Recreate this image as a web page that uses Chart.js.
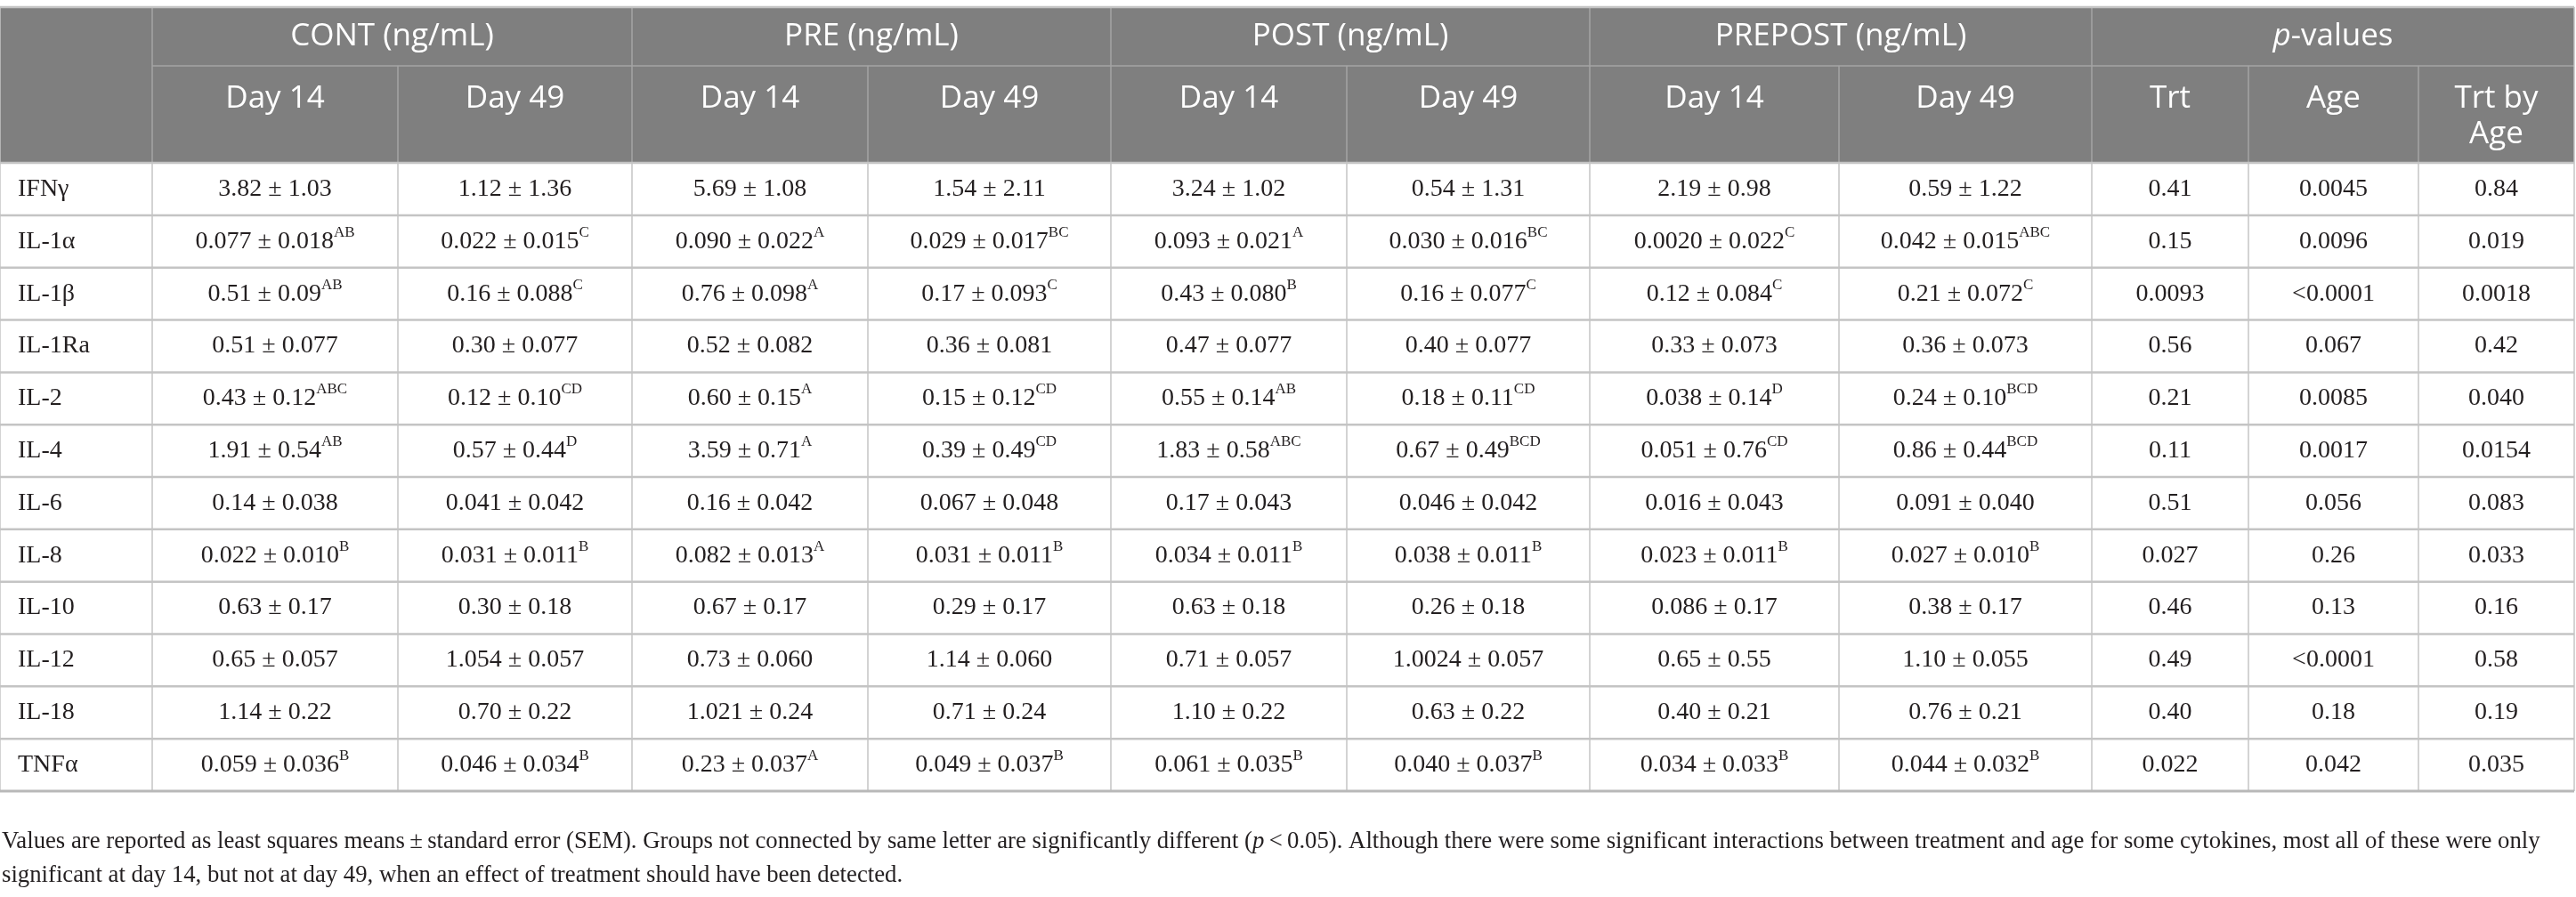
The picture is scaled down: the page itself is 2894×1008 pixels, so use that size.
<!DOCTYPE html>
<html lang="en">
<head>
<meta charset="UTF-8">
<title>Cytokines by treatment and age</title>
<script src="https://cdn.jsdelivr.net/npm/chart.js"></script>
<style>
  html, body { margin: 0; padding: 0; background: #fff; }
  #wrap { width: 2894px; height: 1008px; position: relative; }
</style>
</head>
<body>
<div id="wrap"><canvas id="tabela"></canvas></div>
<script>
const cytokines = ['IFNγ', 'IL-1α', 'IL-1β', 'IL-1Ra', 'IL-2', 'IL-4', 'IL-6', 'IL-8', 'IL-10', 'IL-12', 'IL-18', 'TNFα'];
const groups = ['CONT (ng/mL)', 'PRE (ng/mL)', 'POST (ng/mL)', 'PREPOST (ng/mL)'];
const days = ['Day 14', 'Day 49'];
const pLabels = ['Trt', 'Age', 'Trt by|Age'];

const cont14 = ['3.82 ± 1.03', '0.077 ± 0.018', '0.51 ± 0.09', '0.51 ± 0.077', '0.43 ± 0.12', '1.91 ± 0.54', '0.14 ± 0.038', '0.022 ± 0.010', '0.63 ± 0.17', '0.65 ± 0.057', '1.14 ± 0.22', '0.059 ± 0.036'];
const cont14Sup = ['', 'AB', 'AB', '', 'ABC', 'AB', '', 'B', '', '', '', 'B'];
const cont49 = ['1.12 ± 1.36', '0.022 ± 0.015', '0.16 ± 0.088', '0.30 ± 0.077', '0.12 ± 0.10', '0.57 ± 0.44', '0.041 ± 0.042', '0.031 ± 0.011', '0.30 ± 0.18', '1.054 ± 0.057', '0.70 ± 0.22', '0.046 ± 0.034'];
const cont49Sup = ['', 'C', 'C', '', 'CD', 'D', '', 'B', '', '', '', 'B'];
const pre14 = ['5.69 ± 1.08', '0.090 ± 0.022', '0.76 ± 0.098', '0.52 ± 0.082', '0.60 ± 0.15', '3.59 ± 0.71', '0.16 ± 0.042', '0.082 ± 0.013', '0.67 ± 0.17', '0.73 ± 0.060', '1.021 ± 0.24', '0.23 ± 0.037'];
const pre14Sup = ['', 'A', 'A', '', 'A', 'A', '', 'A', '', '', '', 'A'];
const pre49 = ['1.54 ± 2.11', '0.029 ± 0.017', '0.17 ± 0.093', '0.36 ± 0.081', '0.15 ± 0.12', '0.39 ± 0.49', '0.067 ± 0.048', '0.031 ± 0.011', '0.29 ± 0.17', '1.14 ± 0.060', '0.71 ± 0.24', '0.049 ± 0.037'];
const pre49Sup = ['', 'BC', 'C', '', 'CD', 'CD', '', 'B', '', '', '', 'B'];
const post14 = ['3.24 ± 1.02', '0.093 ± 0.021', '0.43 ± 0.080', '0.47 ± 0.077', '0.55 ± 0.14', '1.83 ± 0.58', '0.17 ± 0.043', '0.034 ± 0.011', '0.63 ± 0.18', '0.71 ± 0.057', '1.10 ± 0.22', '0.061 ± 0.035'];
const post14Sup = ['', 'A', 'B', '', 'AB', 'ABC', '', 'B', '', '', '', 'B'];
const post49 = ['0.54 ± 1.31', '0.030 ± 0.016', '0.16 ± 0.077', '0.40 ± 0.077', '0.18 ± 0.11', '0.67 ± 0.49', '0.046 ± 0.042', '0.038 ± 0.011', '0.26 ± 0.18', '1.0024 ± 0.057', '0.63 ± 0.22', '0.040 ± 0.037'];
const post49Sup = ['', 'BC', 'C', '', 'CD', 'BCD', '', 'B', '', '', '', 'B'];
const prepost14 = ['2.19 ± 0.98', '0.0020 ± 0.022', '0.12 ± 0.084', '0.33 ± 0.073', '0.038 ± 0.14', '0.051 ± 0.76', '0.016 ± 0.043', '0.023 ± 0.011', '0.086 ± 0.17', '0.65 ± 0.55', '0.40 ± 0.21', '0.034 ± 0.033'];
const prepost14Sup = ['', 'C', 'C', '', 'D', 'CD', '', 'B', '', '', '', 'B'];
const prepost49 = ['0.59 ± 1.22', '0.042 ± 0.015', '0.21 ± 0.072', '0.36 ± 0.073', '0.24 ± 0.10', '0.86 ± 0.44', '0.091 ± 0.040', '0.027 ± 0.010', '0.38 ± 0.17', '1.10 ± 0.055', '0.76 ± 0.21', '0.044 ± 0.032'];
const prepost49Sup = ['', 'ABC', 'C', '', 'BCD', 'BCD', '', 'B', '', '', '', 'B'];
const pTrt = ['0.41', '0.15', '0.0093', '0.56', '0.21', '0.11', '0.51', '0.027', '0.46', '0.49', '0.40', '0.022'];
const pAge = ['0.0045', '0.0096', '<0.0001', '0.067', '0.0085', '0.0017', '0.056', '0.26', '0.13', '<0.0001', '0.18', '0.042'];
const pInt = ['0.84', '0.019', '0.0018', '0.42', '0.040', '0.0154', '0.083', '0.033', '0.16', '0.58', '0.19', '0.035'];

const notaLinha1 = ['Values are reported as least squares means\u2009±\u2009standard error (SEM). Groups not connected by same letter are significantly different (', 'p', '\u2009<\u20090.05). Although there were some significant interactions between treatment and age for some cytokines, most all of these were only'];
const notaLinha2 = 'significant at day 14, but not at day 49, when an effect of treatment should have been detected.';

// ---- layout (not data) ----
const colWidths = [171, 276, 263, 265, 273, 265, 273, 280, 284, 176, 191, 175];
const rowHeights = [66, 109].concat(cytokines.map(() => 58.8));
const colEdges = [0];
colWidths.forEach(w => colEdges.push(colEdges[colEdges.length - 1] + w));
const rowEdges = [0];
rowHeights.forEach(h => rowEdges.push(rowEdges[rowEdges.length - 1] + h));

const valueCols = [cont14, cont49, pre14, pre49, post14, post49, prepost14, prepost49];
const supCols = [cont14Sup, cont49Sup, pre14Sup, pre49Sup, post14Sup, post49Sup, prepost14Sup, prepost49Sup];
const pCols = [pTrt, pAge, pInt];

const HEADER_BG = '#7f7f7f';
const HEADER_LINE = '#a4a4a4';
const GRID = '#c4c4c4';
const INK = '#231f20';
const SANS = '"Open Sans", "Noto Sans", sans-serif';
const SERIF = '"Liberation Serif", "DejaVu Serif", serif';

function larguraRica(ctx, partes) {
    let w = 0;
    partes.forEach(p => { ctx.font = p.font; w += ctx.measureText(p.t).width; });
    return w;
}
function textoRico(ctx, partes, x, y, alinhar) {
    let w = larguraRica(ctx, partes);
    let cx = alinhar === 'center' ? x - w / 2 : x;
    ctx.textAlign = 'left';
    partes.forEach(p => {
        ctx.font = p.font;
        ctx.fillText(p.t, cx, y - (p.dy || 0));
        cx += ctx.measureText(p.t).width;
    });
}
function linha(ctx, x1, y1, x2, y2, cor, esp) {
    ctx.strokeStyle = cor;
    ctx.lineWidth = esp;
    ctx.beginPath();
    ctx.moveTo(x1, y1);
    ctx.lineTo(x2, y2);
    ctx.stroke();
}

const tabelaPlugin = {
    id: 'tabela',
    afterDraw(chart) {
        const ctx = chart.ctx;
        const sx = chart.scales.x, sy = chart.scales.y;
        const xe = i => sx.getPixelForValue(colEdges[i]);
        const ye = i => sy.getPixelForValue(rowEdges[i]);
        const nC = colWidths.length, nR = rowHeights.length;
        ctx.save();
        ctx.textBaseline = 'middle';

        // header background
        ctx.fillStyle = HEADER_BG;
        ctx.fillRect(xe(0), ye(0), xe(nC) - xe(0), ye(2) - ye(0));

        // header lines
        linha(ctx, xe(1), ye(1), xe(nC), ye(1), HEADER_LINE, 1.5);
        [1, 3, 5, 7, 9].forEach(i => linha(ctx, xe(i), ye(0), xe(i), ye(2), HEADER_LINE, 1.5));
        [2, 4, 6, 8, 10, 11].forEach(i => linha(ctx, xe(i), ye(1), xe(i), ye(2), HEADER_LINE, 1.5));

        // body grid
        for (let r = 2; r < nR; r++) linha(ctx, xe(0), ye(r), xe(nC), ye(r), GRID, 2.5);
        for (let c = 1; c < nC; c++) linha(ctx, xe(c), ye(2), xe(c), ye(nR), GRID, 1.5);
        linha(ctx, xe(0), ye(0), xe(0), ye(nR), GRID, 1.5);
        linha(ctx, xe(nC), ye(0), xe(nC), ye(nR), GRID, 1.5);
        linha(ctx, xe(0), ye(0), xe(nC), ye(0), GRID, 2.5);
        linha(ctx, xe(0), ye(nR), xe(nC), ye(nR), '#b8b8b8', 3);

        // header text
        ctx.fillStyle = '#ffffff';
        const hFont = '400 35px ' + SANS;
        const y1 = (ye(0) + ye(1)) / 2;
        groups.forEach((g, k) => {
            const cx = (xe(1 + 2 * k) + xe(3 + 2 * k)) / 2;
            textoRico(ctx, [{ t: g, font: hFont }], cx, y1, 'center');
        });
        textoRico(ctx, [{ t: 'p', font: 'italic 400 35px ' + SANS }, { t: '-values', font: hFont }],
            (xe(9) + xe(12)) / 2, y1, 'center');
        const y2 = ye(1) + 37;
        for (let c = 1; c <= 8; c++) {
            textoRico(ctx, [{ t: days[(c - 1) % 2], font: hFont }], (xe(c) + xe(c + 1)) / 2, y2, 'center');
        }
        pLabels.forEach((lab, k) => {
            const cx = (xe(9 + k) + xe(10 + k)) / 2;
            lab.split('|').forEach((s, j) => textoRico(ctx, [{ t: s, font: hFont }], cx, y2 + j * 40, 'center'));
        });

        // body text
        ctx.fillStyle = INK;
        const dFont = '28px ' + SERIF;
        const supFont = '17px ' + SERIF;
        cytokines.forEach((nome, r) => {
            const cy = (ye(r + 2) + ye(r + 3)) / 2;
            textoRico(ctx, [{ t: nome, font: dFont }], xe(0) + 20, cy, 'left');
            valueCols.forEach((col, c) => {
                const partes = [{ t: col[r], font: dFont }];
                if (supCols[c][r]) partes.push({ t: supCols[c][r], font: supFont, dy: 10 });
                textoRico(ctx, partes, (xe(c + 1) + xe(c + 2)) / 2, cy, 'center');
            });
            pCols.forEach((col, k) => {
                textoRico(ctx, [{ t: col[r], font: dFont }], (xe(9 + k) + xe(10 + k)) / 2, cy, 'center');
            });
        });

        // footnote, sized so the first line fills the width under the table
        const mede = tam => larguraRica(ctx, [
            { t: notaLinha1[0], font: tam + 'px ' + SERIF },
            { t: notaLinha1[1], font: 'italic ' + tam + 'px ' + SERIF },
            { t: notaLinha1[2], font: tam + 'px ' + SERIF }]);
        const tam = 24 * 2852 / mede(24);
        const fN = tam.toFixed(2) + 'px ' + SERIF;
        const fI = 'italic ' + fN;
        textoRico(ctx, [{ t: notaLinha1[0], font: fN }, { t: notaLinha1[1], font: fI }, { t: notaLinha1[2], font: fN }],
            2, ye(nR) + 57, 'left');
        textoRico(ctx, [{ t: notaLinha2, font: fN }], 2, ye(nR) + 95, 'left');
        ctx.restore();
    }
};

new Chart(document.getElementById('tabela'), {
    type: 'scatter',
    data: { datasets: [] },
    options: {
        responsive: true,
        maintainAspectRatio: false,
        animation: false,
        devicePixelRatio: 1,
        layout: { padding: { left: 0, right: 2, top: 8, bottom: 119 } },
        plugins: { legend: { display: false }, tooltip: { enabled: false } },
        scales: {
            x: { type: 'linear', display: false, min: 0, max: colEdges[colEdges.length - 1] },
            y: { type: 'linear', display: false, reverse: true, min: 0, max: rowEdges[rowEdges.length - 1] }
        }
    },
    plugins: [tabelaPlugin]
});
</script>
</body>
</html>
